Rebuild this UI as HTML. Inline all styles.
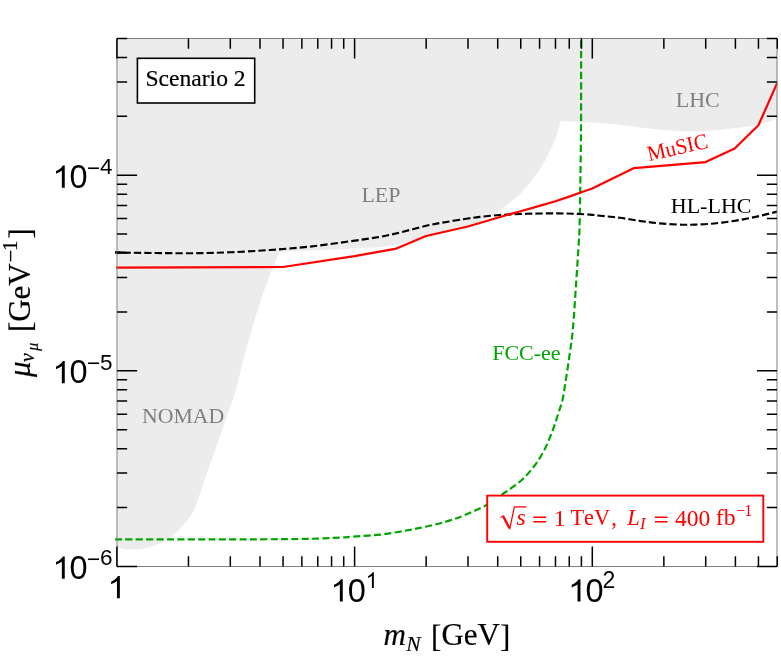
<!DOCTYPE html>
<html><head><meta charset="utf-8"><title>plot</title>
<style>
html,body{margin:0;padding:0;background:#fff;}
svg{display:block;will-change:transform;}
text{font-family:"Liberation Serif",serif;font-kerning:none;}
.sans{font-family:"Liberation Sans",sans-serif;}
.it{font-style:italic;}
</style></head><body>
<svg width="781" height="661" viewBox="0 0 781 661">
<rect width="781" height="661" fill="#fff"/>
<polygon points="116.9,38.2 116.9,252.3 279.5,252.0 300.0,250.8 340.0,249.3 380.0,247.3 396.0,245.0 410.0,241.5 426.0,236.8 445.0,232.0 468.0,226.3 482.0,220.6 494.4,214.4 507.0,204.8 520.3,194.0 530.0,183.0 539.0,170.8 545.5,160.0 550.8,149.2 554.0,142.0 556.7,135.4 558.7,128.5 560.6,121.0 600.0,123.1 620.0,124.8 640.8,127.5 660.0,129.8 681.7,131.3 695.0,131.4 708.9,130.8 722.0,129.6 736.0,128.0 748.0,126.6 758.4,124.8 768.0,122.0 777.6,118.3 777.6,38.2" fill="#ececec"/>
<polygon points="116.9,252.3 279.5,252.3 271.0,272.0 262.6,294.5 254.0,322.0 246.2,349.0 235.9,390.0 229.5,409.0 219.0,439.0 205.4,477.2 194.4,509.9 186.9,520.8 177.2,531.7 169.5,538.0 161.4,543.1 150.0,547.0 140.0,549.4 126.3,549.6 116.9,547.5" fill="#ececec"/>
<path d="M115.10 539.40C129.25 539.40 175.85 539.42 200.00 539.40C224.15 539.38 241.67 539.40 260.00 539.30C278.33 539.20 296.67 539.08 310.00 538.80C323.33 538.52 332.93 537.95 340.00 537.60C347.07 537.25 345.73 537.20 352.40 536.70C359.07 536.20 371.47 535.55 380.00 534.60C388.53 533.65 396.93 532.12 403.60 531.00C410.27 529.88 414.55 529.03 420.00 527.90C425.45 526.77 431.30 525.45 436.30 524.20C441.30 522.95 445.30 521.90 450.00 520.40C454.70 518.90 458.80 517.57 464.50 515.20C470.20 512.83 479.12 508.73 484.20 506.20C489.28 503.67 493.20 501.03 495.00 500.00" fill="none" stroke="#00a600" stroke-width="2.2" stroke-dasharray="7.05 3.31"/>
<path d="M581.10 37.00C581.08 52.50 581.23 99.50 581.00 130.00C580.77 160.50 580.05 201.67 579.70 220.00C579.35 238.33 579.48 229.67 578.90 240.00C578.32 250.33 577.20 267.18 576.20 282.00C575.20 296.82 574.03 316.53 572.90 328.90C571.77 341.27 570.67 347.12 569.40 356.20C568.13 365.28 566.45 376.10 565.30 383.40C564.15 390.70 563.60 395.22 562.50 400.00C561.40 404.78 559.97 408.07 558.70 412.10C557.43 416.13 556.28 420.17 554.90 424.20C553.52 428.23 552.03 432.27 550.40 436.30C548.77 440.33 547.05 444.48 545.10 448.40C543.15 452.32 540.98 456.27 538.70 459.80C536.42 463.33 534.00 466.45 531.40 469.60C528.80 472.75 526.00 475.93 523.10 478.70C520.20 481.47 517.15 483.82 514.00 486.20C510.85 488.58 507.37 490.87 504.20 493.00C501.03 495.13 496.53 498.00 495.00 499.00" fill="none" stroke="#00a600" stroke-width="2.2" stroke-dasharray="7.1 3.33" stroke-dashoffset="6.75"/>
<path d="M115.00 252.40C120.83 252.50 136.75 252.87 150.00 253.00C163.25 253.13 181.17 253.32 194.50 253.20C207.83 253.08 217.42 252.83 230.00 252.30C242.58 251.77 256.67 250.95 270.00 250.00C283.33 249.05 296.67 248.05 310.00 246.60C323.33 245.15 338.33 242.93 350.00 241.30C361.67 239.67 371.67 238.27 380.00 236.80C388.33 235.33 392.33 234.33 400.00 232.50C407.67 230.67 418.50 227.52 426.00 225.80C433.50 224.08 438.00 223.42 445.00 222.20C452.00 220.98 462.17 219.38 468.00 218.50C473.83 217.62 474.67 217.48 480.00 216.90C485.33 216.32 493.33 215.48 500.00 215.00C506.67 214.52 513.33 214.25 520.00 214.00C526.67 213.75 533.57 213.60 540.00 213.50C546.43 213.40 552.77 213.35 558.60 213.40C564.43 213.45 569.77 213.60 575.00 213.80C580.23 214.00 585.83 214.28 590.00 214.60C594.17 214.92 595.00 215.17 600.00 215.70C605.00 216.23 613.20 216.90 620.00 217.80C626.80 218.70 634.13 220.17 640.80 221.10C647.47 222.03 653.18 222.80 660.00 223.40C666.82 224.00 675.87 224.50 681.70 224.70C687.53 224.90 690.47 224.73 695.00 224.60C699.53 224.47 704.40 224.23 708.90 223.90C713.40 223.57 717.48 223.15 722.00 222.60C726.52 222.05 731.33 221.37 736.00 220.60C740.67 219.83 745.45 218.92 750.00 218.00C754.55 217.08 758.78 216.17 763.30 215.10C767.82 214.03 774.80 212.18 777.10 211.60" fill="none" stroke="#000" stroke-width="2.15" stroke-dasharray="7.3 3.07" stroke-dashoffset="1.77"/>
<path d="M115.0 252.4L124 252.5" stroke="#000" stroke-width="2.15"/>
<path d="M116.0 267.6 L282.9 267.0 L354.5 256.2 L396.4 248.6 L426.1 236.0 L467.9 226.5 L497.6 217.7 L520.6 211.2 L539.5 205.9 L555.4 201.3 L569.2 196.6 L581.3 192.3 L592.2 188.5 L634.1 168.1 L705.6 162.1 L734.7 148.5 L758.4 125.3 L777.1 83.1" fill="none" stroke="#ff0000" stroke-width="2.2" stroke-linejoin="round"/>
<rect x="117.0" y="38.5" width="660.0" height="528.0" fill="none" stroke="#808080" stroke-width="1"/>
<path d="M116.90 566.5V546.40M116.90 38.5V58.60M188.45 566.5V556.35M188.45 38.5V48.65M230.31 566.5V556.35M230.31 38.5V48.65M260.01 566.5V556.35M260.01 38.5V48.65M283.05 566.5V556.35M283.05 38.5V48.65M301.87 566.5V556.35M301.87 38.5V48.65M317.78 566.5V556.35M317.78 38.5V48.65M331.56 566.5V556.35M331.56 38.5V48.65M343.72 566.5V556.35M343.72 38.5V48.65M354.60 566.5V546.40M354.60 38.5V58.60M426.15 566.5V556.35M426.15 38.5V48.65M468.01 566.5V556.35M468.01 38.5V48.65M497.71 566.5V556.35M497.71 38.5V48.65M520.75 566.5V556.35M520.75 38.5V48.65M539.57 566.5V556.35M539.57 38.5V48.65M555.48 566.5V556.35M555.48 38.5V48.65M569.26 566.5V556.35M569.26 38.5V48.65M581.42 566.5V556.35M581.42 38.5V48.65M592.30 566.5V546.40M592.30 38.5V58.60M663.85 566.5V556.35M663.85 38.5V48.65M705.71 566.5V556.35M705.71 38.5V48.65M735.41 566.5V556.35M735.41 38.5V48.65M758.45 566.5V556.35M758.45 38.5V48.65M777.27 566.5V556.35M777.27 38.5V48.65M117.0 566.40H137.10M777.0 566.40H756.90M117.0 507.52H127.15M777.0 507.52H766.85M117.0 473.08H127.15M777.0 473.08H766.85M117.0 448.64H127.15M777.0 448.64H766.85M117.0 429.68H127.15M777.0 429.68H766.85M117.0 414.19H127.15M777.0 414.19H766.85M117.0 401.10H127.15M777.0 401.10H766.85M117.0 389.76H127.15M777.0 389.76H766.85M117.0 379.75H127.15M777.0 379.75H766.85M117.0 370.80H137.10M777.0 370.80H756.90M117.0 311.92H127.15M777.0 311.92H766.85M117.0 277.48H127.15M777.0 277.48H766.85M117.0 253.04H127.15M777.0 253.04H766.85M117.0 234.08H127.15M777.0 234.08H766.85M117.0 218.59H127.15M777.0 218.59H766.85M117.0 205.50H127.15M777.0 205.50H766.85M117.0 194.16H127.15M777.0 194.16H766.85M117.0 184.15H127.15M777.0 184.15H766.85M117.0 175.20H137.10M777.0 175.20H756.90M117.0 116.32H127.15M777.0 116.32H766.85M117.0 81.88H127.15M777.0 81.88H766.85M117.0 57.44H127.15M777.0 57.44H766.85M117.0 38.48H127.15M777.0 38.48H766.85" fill="none" stroke="#000" stroke-width="1.5"/>
<!-- labels in plot -->
<g font-size="22" fill="#808080">
<text x="675.8" y="107.2">LHC</text>
<text x="361.4" y="201.5">LEP</text>
<text x="142.0" y="423.4" font-size="21.8">NOMAD</text>
</g>
<text x="670.8" y="212.6" font-size="22" fill="#000">HL-LHC</text>
<text x="492.2" y="360.4" font-size="22" fill="#00a600">FCC-ee</text>
<text transform="translate(649.0,161.3) rotate(-12.8) scale(0.95,1)" font-size="22" fill="#ff0000">MuSIC</text>
<!-- scenario box -->
<rect x="137.4" y="58.3" width="117.3" height="44.7" fill="#fff" stroke="#000" stroke-width="1.6"/>
<text x="145.4" y="86.3" font-size="23.6" fill="#000" stroke="#000" stroke-width="0.2">Scenario 2</text>
<!-- red box -->
<rect x="487.2" y="495.6" width="276.1" height="46.2" fill="#fff" stroke="#ff0000" stroke-width="1.9"/>
<g fill="#ff0000" font-size="23.6">
<path d="M500.5 517.6 L503.3 515.6" fill="none" stroke="#ff0000" stroke-width="1.1"/>
<path d="M503.0 515.9 L509.5 528.2" fill="none" stroke="#ff0000" stroke-width="2.3"/>
<path d="M509.6 529.3 L514.4 506.8 L526.6 506.8" fill="none" stroke="#ff0000" stroke-width="1.25"/>
<text x="516.4" y="525.4" class="it">s</text>
<path d="M533.2 517.2H546.2M533.2 521.8H546.2M654.9 517.2H667.6M654.9 521.8H667.6" fill="none" stroke="#ff0000" stroke-width="1.45"/>
<text x="553.7" y="525.5">1</text>
<text x="570.5" y="525.3" font-size="22.3">TeV</text>
<text x="611.2" y="525.3" font-size="22.3">,</text>
<text x="627.3" y="525.3" class="it" font-size="22.6">L</text>
<text x="640.1" y="528.9" class="it" font-size="16.5">I</text>
<text x="675.0" y="525.5">400</text>
<text x="715.8" y="525.4" font-size="23.8">fb</text>
<text x="736.0" y="516.4" font-size="16.2">−</text>
<text x="744.3" y="516.4" font-size="16.2">1</text>
</g>
<!-- tick labels -->
<defs><path id="one" d="M763 0H583V1147Q518 1085 412.5 1023T223 930V1104Q374 1175 487 1276T647 1472H763Z"/></defs>
<g class="sans" fill="#000" font-size="32.5">
<use href="#one" transform="translate(107.50,598.30) scale(0.0162,-0.01508)"/>
<use href="#one" transform="translate(330.40,601.50) scale(0.0162,-0.01508)"/><text class="sans" x="347.8" y="601.5">0</text><use href="#one" transform="translate(365.60,588.00) scale(0.0108,-0.01073)"/>
<use href="#one" transform="translate(568.10,601.50) scale(0.0162,-0.01508)"/><text class="sans" x="585.5" y="601.5">0</text><text class="sans" x="602.4" y="588.1" font-size="23">2</text>
<use href="#one" transform="translate(52.40,187.70) scale(0.0162,-0.01508)"/><text class="sans" x="69.6" y="187.7">0</text><text class="sans" x="86.9" y="175.6" font-size="22.7">−</text><text class="sans" x="100.1" y="174.3" font-size="22.5">4</text>
<use href="#one" transform="translate(52.40,383.20) scale(0.0162,-0.01508)"/><text class="sans" x="69.6" y="383.2">0</text><text class="sans" x="86.9" y="371.1" font-size="22.7">−</text><text class="sans" x="100.1" y="369.8" font-size="22.5">5</text>
<use href="#one" transform="translate(52.40,578.70) scale(0.0162,-0.01508)"/><text class="sans" x="69.6" y="578.7">0</text><text class="sans" x="86.9" y="566.6" font-size="22.7">−</text><text class="sans" x="100.1" y="565.3" font-size="22.5">6</text>
</g>
<!-- axis labels -->
<g font-size="31" fill="#000" stroke="#000" stroke-width="0.2">
<text x="383.4" y="645.0" class="it">m</text>
<text x="406.2" y="650.6" class="it" font-size="21.5">N</text>
<text x="431.1" y="646.8">[</text>
<text x="441.4" y="645.4">GeV</text>
<text x="499.9" y="646.8">]</text>
</g>
<g transform="translate(30.2,377.1) rotate(-90)" font-size="31" fill="#000" stroke="#000" stroke-width="0.2">
<text x="0" y="0" class="it">μ</text>
<text x="15.1" y="4.0" class="it" font-size="20">ν</text>
<text x="26.3" y="7.3" class="it" font-size="16">μ</text>
<text x="45.0" y="1.2">[</text>
<text x="55.3" y="0">GeV</text>
<text x="114.9" y="-12.0" font-size="22">−</text>
<text x="126.0" y="-13.5" font-size="21">1</text>
<text x="138.6" y="1.2">]</text>
</g>
</svg>
</body></html>
